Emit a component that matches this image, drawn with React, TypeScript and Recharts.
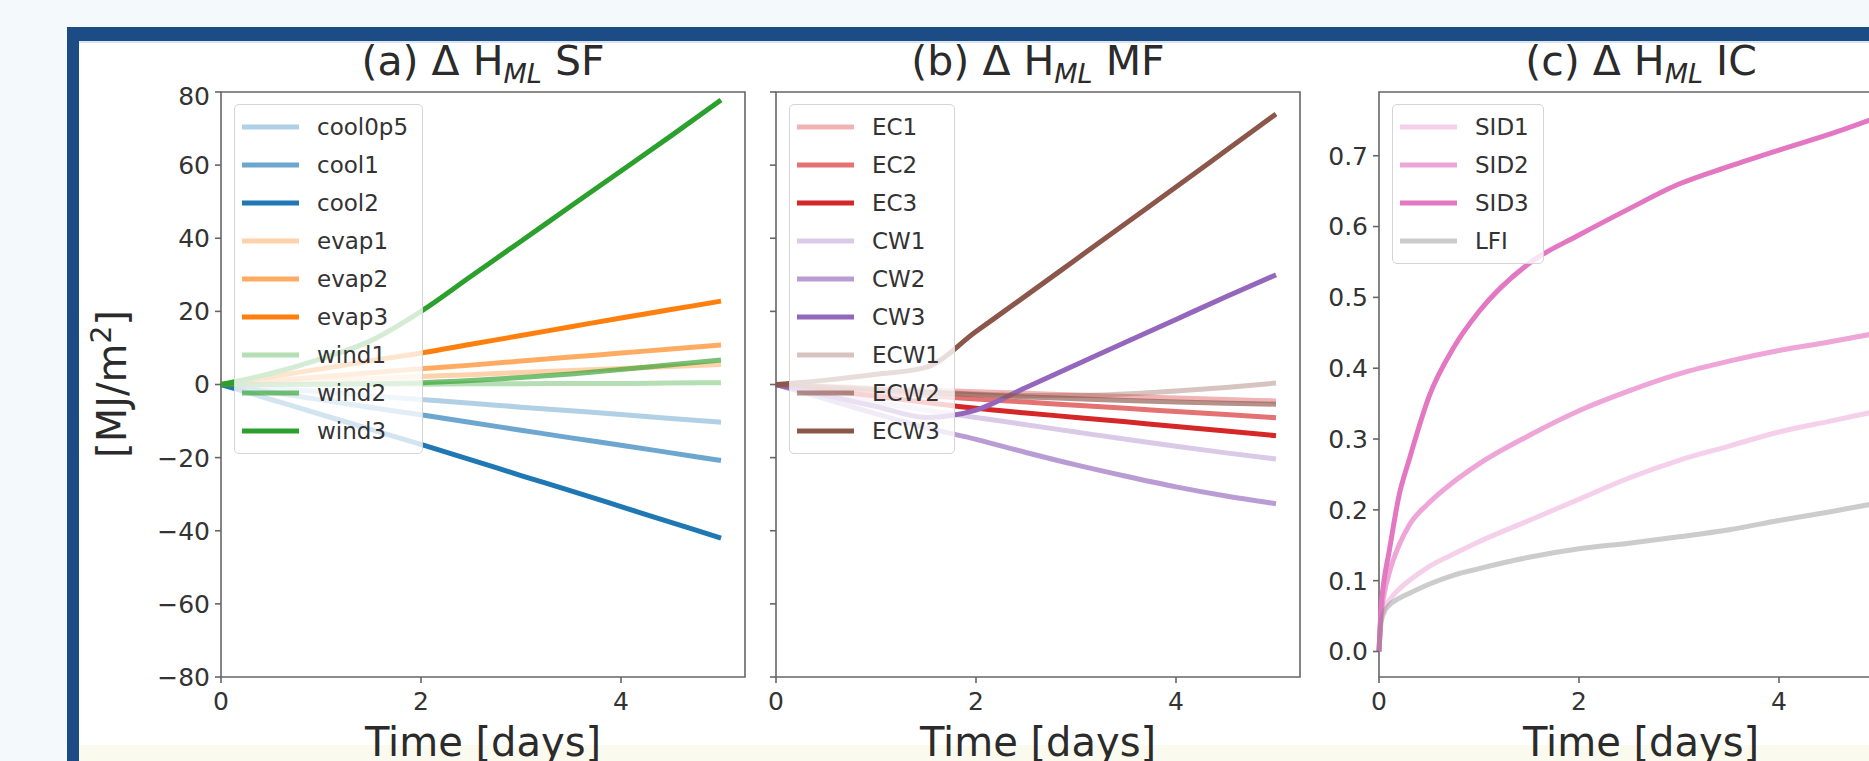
import React from 'react';
import { LineChart, Line, XAxis, YAxis, ReferenceArea, Legend } from 'recharts';

// time axis (days) for panels (a) and (b)
const TIME_AB = [0, 0.5, 1, 1.5, 2, 2.5, 3, 3.5, 4, 4.5, 5];
// finer sampling near t=0 for panel (c)
const TIME_C = [0, 0.02, 0.05, 0.1, 0.2, 0.3, 0.5, 0.75, 1, 1.5, 2, 2.5, 3, 3.5, 4, 4.5, 5];

// (a) SF
const cool0p5 = [0, -1, -2, -3.1, -4.1, -5.1, -6.2, -7.2, -8.2, -9.3, -10.3];
const cool1 = [0, -2.1, -4.2, -6.3, -8.3, -10.4, -12.5, -14.6, -16.6, -18.7, -20.8];
const cool2 = [0, -4.1, -8.2, -12.3, -16.4, -20.6, -24.9, -29.1, -33.4, -37.7, -42];
const evap1 = [0, 0.5, 1.1, 1.6, 2.2, 2.7, 3.3, 3.8, 4.4, 4.9, 5.5];
const evap2 = [0, 1.1, 2.1, 3.2, 4.3, 5.3, 6.4, 7.5, 8.6, 9.7, 10.8];
const evap3 = [0, 2.1, 4.3, 6.5, 8.6, 11, 13.4, 15.8, 18.2, 20.5, 22.8];
const wind1 = [0, 0, 0.1, 0.1, 0.1, 0.2, 0.2, 0.3, 0.3, 0.4, 0.5];
const wind2 = [0, 0, 0.1, 0.2, 0.5, 1.1, 1.9, 2.9, 4.1, 5.4, 6.7];
const wind3 = [0, 3, 7, 12, 20, 29.6, 39.2, 48.8, 58.4, 68, 77.8];

// (b) MF
const EC1 = [0, -0.5, -1, -1.5, -2, -2.4, -2.9, -3.3, -3.7, -4.1, -4.5];
const EC2 = [0, -1, -2, -3, -4, -4.8, -5.7, -6.5, -7.4, -8.2, -9.1];
const EC3 = [0, -1.6, -3.2, -4.9, -6.5, -7.8, -9, -10.2, -11.5, -12.7, -14];
const CW1 = [0, -2.4, -4.8, -7, -9, -11, -13, -15, -16.9, -18.7, -20.4];
const CW2 = [0, -4, -8, -11.8, -15, -18.6, -22, -25.1, -28, -30.5, -32.6];
const CW3 = [0, -3, -6, -9, -7, -0.8, 5.4, 11.6, 17.8, 24, 30];
const ECW1 = [0, -0.7, -1.4, -2, -2.6, -3, -3, -2.6, -1.8, -0.8, 0.4];
const ECW2 = [0, -0.7, -1.4, -2.1, -2.8, -3.4, -3.9, -4.4, -4.8, -5.1, -5.4];
const ECW3 = [0, 1.2, 2.8, 4.7, 14.5, 24.3, 34.2, 44.1, 54, 64, 74];

// (c) IC
const SID1 = [0, 0.045, 0.06, 0.072, 0.088, 0.1, 0.12, 0.138, 0.155, 0.185, 0.215, 0.245, 0.27, 0.29, 0.31, 0.325, 0.34];
const SID2 = [0, 0.05, 0.08, 0.11, 0.15, 0.178, 0.21, 0.24, 0.265, 0.305, 0.34, 0.368, 0.392, 0.41, 0.425, 0.437, 0.45];
const SID3 = [0, 0.06, 0.1, 0.14, 0.22, 0.27, 0.36, 0.43, 0.48, 0.548, 0.588, 0.625, 0.66, 0.685, 0.708, 0.73, 0.755];
const LFI = [0, 0.04, 0.055, 0.065, 0.075, 0.082, 0.095, 0.108, 0.117, 0.133, 0.145, 0.153, 0.162, 0.172, 0.185, 0.197, 0.21];

const TICKS_X = [0, 2, 4];
const TICKS_MJ = [-80, -60, -40, -20, 0, 20, 40, 60, 80];
const TICKS_IC = [0, 0.1, 0.2, 0.3, 0.4, 0.5, 0.6, 0.7];

const BLUE = '#1f77b4';
const ORANGE = '#ff7f0e';
const GREEN = '#2ca02c';
const RED = '#d62728';
const PURPLE = '#9467bd';
const BROWN = '#8c564b';
const PINK = '#e377c2';
const GRAY = '#7f7f7f';
const A1 = 0.35;
const A2 = 0.65;
const A3 = 1;

type Series = { name: string; color: string; alpha: number; values: number[] };

const seriesSF: Series[] = [
    { name: 'cool0p5', color: BLUE, alpha: A1, values: cool0p5 },
    { name: 'cool1', color: BLUE, alpha: A2, values: cool1 },
    { name: 'cool2', color: BLUE, alpha: A3, values: cool2 },
    { name: 'evap1', color: ORANGE, alpha: A1, values: evap1 },
    { name: 'evap2', color: ORANGE, alpha: A2, values: evap2 },
    { name: 'evap3', color: ORANGE, alpha: A3, values: evap3 },
    { name: 'wind1', color: GREEN, alpha: A1, values: wind1 },
    { name: 'wind2', color: GREEN, alpha: A2, values: wind2 },
    { name: 'wind3', color: GREEN, alpha: A3, values: wind3 },
];

const seriesMF: Series[] = [
    { name: 'EC1', color: RED, alpha: A1, values: EC1 },
    { name: 'EC2', color: RED, alpha: A2, values: EC2 },
    { name: 'EC3', color: RED, alpha: A3, values: EC3 },
    { name: 'CW1', color: PURPLE, alpha: A1, values: CW1 },
    { name: 'CW2', color: PURPLE, alpha: A2, values: CW2 },
    { name: 'CW3', color: PURPLE, alpha: A3, values: CW3 },
    { name: 'ECW1', color: BROWN, alpha: A1, values: ECW1 },
    { name: 'ECW2', color: BROWN, alpha: A2, values: ECW2 },
    { name: 'ECW3', color: BROWN, alpha: A3, values: ECW3 },
];

const seriesIC: Series[] = [
    { name: 'SID1', color: PINK, alpha: A1, values: SID1 },
    { name: 'SID2', color: PINK, alpha: A2, values: SID2 },
    { name: 'SID3', color: PINK, alpha: A3, values: SID3 },
    { name: 'LFI', color: GRAY, alpha: 0.4, values: LFI },
];

const FONT = '"DejaVu Sans", sans-serif';
const PLOT_TOP = 92;
const PLOT_W = 524;
const PLOT_H = 585;
const Y_AXIS_W = 100;
const X_MAX = 5.24;
const SPINE = '#666';
const LINE_W = 5;

const toRows = (time: number[], series: Series[]) =>
    time.map((t, i) => {
        const row: Record<string, number> = { t };
        series.forEach((s) => {
            row[s.name] = s.values[i];
        });
        return row;
    });

const fmtInt = (v: number) => (v < 0 ? `\u2212${Math.abs(v)}` : `${v}`);
const fmtDec = (v: number) => v.toFixed(1);

function MplLegend({ series }: { series: Series[] }) {
    return (
        <div
            style={{
                background: 'rgba(255,255,255,0.8)',
                border: '1.5px solid #d4d4d4',
                borderRadius: 5,
                padding: '3px 14px 3px 7px',
                fontFamily: FONT,
            }}
        >
            {series.map((s) => (
                <div key={s.name} style={{ display: 'flex', alignItems: 'center', height: 38 }}>
                    <svg width={57} height={10}>
                        <line x1={0} y1={5} x2={57} y2={5} stroke={s.color} strokeOpacity={s.alpha} strokeWidth={LINE_W} />
                    </svg>
                    <span style={{ marginLeft: 18, fontSize: 23, color: '#333', lineHeight: 1 }}>{s.name}</span>
                </div>
            ))}
        </div>
    );
}

interface PanelProps {
    plotLeft: number;
    time: number[];
    series: Series[];
    yDomain: [number, number];
    yTicks: number[];
    yFormat: (v: number) => string;
}

function Panel({ plotLeft, time, series, yDomain, yTicks, yFormat }: PanelProps) {
    const data = toRows(time, series);
    return (
        <div style={{ position: 'absolute', left: plotLeft - Y_AXIS_W, top: PLOT_TOP - 10 }}>
            <LineChart
                width={PLOT_W + Y_AXIS_W + 10}
                height={PLOT_H + 70}
                data={data}
                margin={{ top: 10, right: 10, bottom: 0, left: 0 }}
            >
                <XAxis
                    dataKey="t"
                    type="number"
                    domain={[0, X_MAX]}
                    ticks={TICKS_X}
                    height={60}
                    axisLine={false}
                    tickSize={6}
                    tickMargin={9}
                    tickLine={{ stroke: SPINE, strokeWidth: 1.6 }}
                    tick={{ fill: '#333', fontSize: 25, fontFamily: FONT }}
                />
                <YAxis
                    type="number"
                    domain={yDomain}
                    ticks={yTicks}
                    width={Y_AXIS_W}
                    axisLine={false}
                    tickSize={6}
                    tickMargin={5}
                    tickFormatter={yFormat}
                    tickLine={{ stroke: SPINE, strokeWidth: 1.6 }}
                    tick={{ fill: '#333', fontSize: 25, fontFamily: FONT }}
                />
                {series.map((s) => (
                    <Line
                        key={s.name}
                        type="monotone"
                        dataKey={s.name}
                        name={s.name}
                        stroke={s.color}
                        strokeOpacity={s.alpha}
                        strokeWidth={LINE_W}
                        dot={false}
                        activeDot={false}
                        isAnimationActive={false}
                    />
                ))}
                <ReferenceArea
                    x1={0}
                    x2={X_MAX}
                    y1={yDomain[0]}
                    y2={yDomain[1]}
                    fill="none"
                    stroke={SPINE}
                    strokeWidth={1.6}
                />
                <Legend
                    layout="horizontal"
                    verticalAlign="middle"
                    align="center"
                    wrapperStyle={{ left: 113, top: 22, width: 'auto', height: 'auto' }}
                    content={() => <MplLegend series={series} />}
                />
            </LineChart>
        </div>
    );
}

const PANELS = [
    { left: 221, title: '(a) Δ H', tag: ' SF' },
    { left: 776, title: '(b) Δ H', tag: ' MF' },
    { left: 1379, title: '(c) Δ H', tag: ' IC' },
];

export default function App() {
    return (
        <div
            style={{
                position: 'absolute',
                left: 0,
                top: 0,
                width: 1869,
                height: 761,
                overflow: 'hidden',
                background: '#f4f9fb',
                fontFamily: FONT,
            }}
        >
            {/* slide frame */}
            <div style={{ position: 'absolute', left: 67, top: 27, width: 1900, height: 800, background: '#1d4b85' }} />
            <div style={{ position: 'absolute', left: 79, top: 41, width: 1900, height: 800, background: '#ffffff', borderTop: '2px solid #d3e6f1' }} />
            <div style={{ position: 'absolute', left: 79, top: 745, width: 1900, height: 30, background: '#fbfaee' }} />

            <svg width={1869} height={761} style={{ position: 'absolute', left: 0, top: 0 }}>
                {PANELS.map((p) => {
                    const cx = p.left + PLOT_W / 2;
                    return (
                        <g key={p.tag} fill="#2b2b2b" fontFamily={FONT}>
                            <text x={cx} y={75} textAnchor="middle" fontSize={41}>
                                {p.title}
                                <tspan fontSize={27} fontStyle="italic" dy={8}>ML</tspan>
                                <tspan dy={-8}>{p.tag}</tspan>
                            </text>
                            <text x={cx} y={756} textAnchor="middle" fontSize={40}>Time [days]</text>
                        </g>
                    );
                })}
                <text transform="translate(126,384) rotate(-90)" textAnchor="middle" fontSize={40} fill="#2b2b2b" fontFamily={FONT}>
                    [MJ/m<tspan dy={-15} fontSize={28}>2</tspan>
                    <tspan dy={15}>]</tspan>
                </text>
            </svg>

            <Panel plotLeft={221} time={TIME_AB} series={seriesSF} yDomain={[-80, 80]} yTicks={TICKS_MJ} yFormat={fmtInt} />
            <Panel plotLeft={776} time={TIME_AB} series={seriesMF} yDomain={[-80, 80]} yTicks={TICKS_MJ} yFormat={() => ''} />
            <Panel plotLeft={1379} time={TIME_C} series={seriesIC} yDomain={[-0.036, 0.79]} yTicks={TICKS_IC} yFormat={fmtDec} />
        </div>
    );
}
